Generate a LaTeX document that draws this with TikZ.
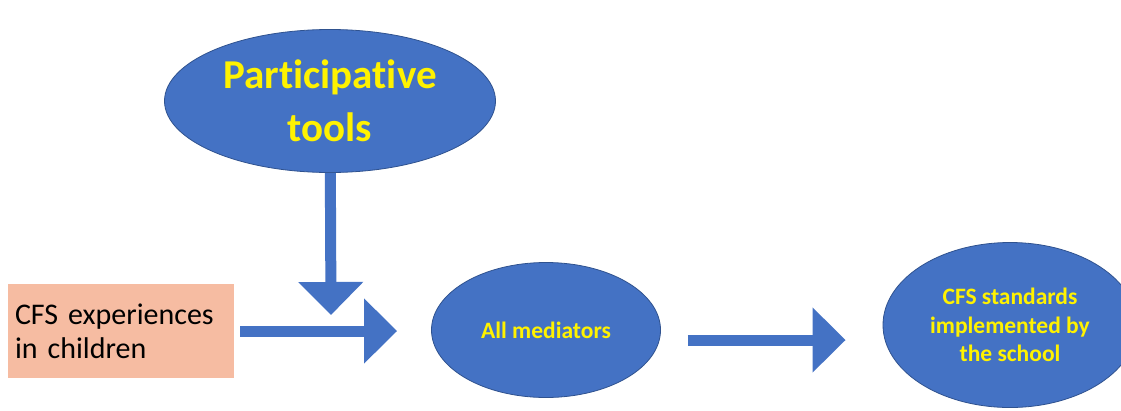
\documentclass[tikz,border=0pt]{standalone}
\usepackage{fontspec}
\setmainfont{Carlito}[Ligatures=CommonOff]
\usetikzlibrary{shapes.geometric,arrows.meta}

\definecolor{ovalblue}{HTML}{4472C4}
\definecolor{ovalline}{HTML}{2F528F}
\definecolor{boxsalmon}{HTML}{F6BCA2}

\tikzset{
    oval/.style={ellipse,fill=ovalblue,draw=ovalline,line width=0.8pt,
        inner sep=0pt,align=center,text=yellow,font=\bfseries},
    bigarrow/.style={draw=ovalblue,line width=11pt,
        -{Triangle[width=63pt,length=33pt]}}
}

\begin{document}
\begin{tikzpicture}[x=1pt,y=-1pt]
\useasboundingbox (0,0) rectangle (1121,410);
\clip (0,0) rectangle (1121,410);
\fill[white] (0,0) rectangle (1121,410);

% nodes
\node[oval,minimum width=331pt,minimum height=143pt,
    font=\bfseries\fontsize{41}{53}\selectfont] (part) at (330,101)
    {Participative\\tools};
\node[fill=boxsalmon,minimum width=226pt,minimum height=94pt,inner sep=7pt,
    align=left,text width=212pt,font=\fontsize{30}{34}\selectfont] (cfs) at (121,331)
    {CFS experiences\\in children};
\node[oval,minimum width=229pt,minimum height=135pt,
    font=\bfseries\fontsize{23.5}{28}\selectfont] (med) at (546,330) {All mediators};
\node[oval,minimum width=254pt,minimum height=165pt,
    font=\bfseries\fontsize{23.5}{28.5}\selectfont] (std) at (1010,325)
    {CFS standards\\implemented by\\the school};

\coordinate (join) at (331,315);

% arrows
\draw[bigarrow] (part) -- (join);
\draw[bigarrow,shorten <=6pt,shorten >=34pt] (cfs.east) -- (cfs.east -| med.west);
\draw[bigarrow,shorten <=27pt,shorten >=37pt]
    ([yshift=-10pt]med.east) -- ([yshift=-15pt]std.west);

\end{tikzpicture}
\end{document}
